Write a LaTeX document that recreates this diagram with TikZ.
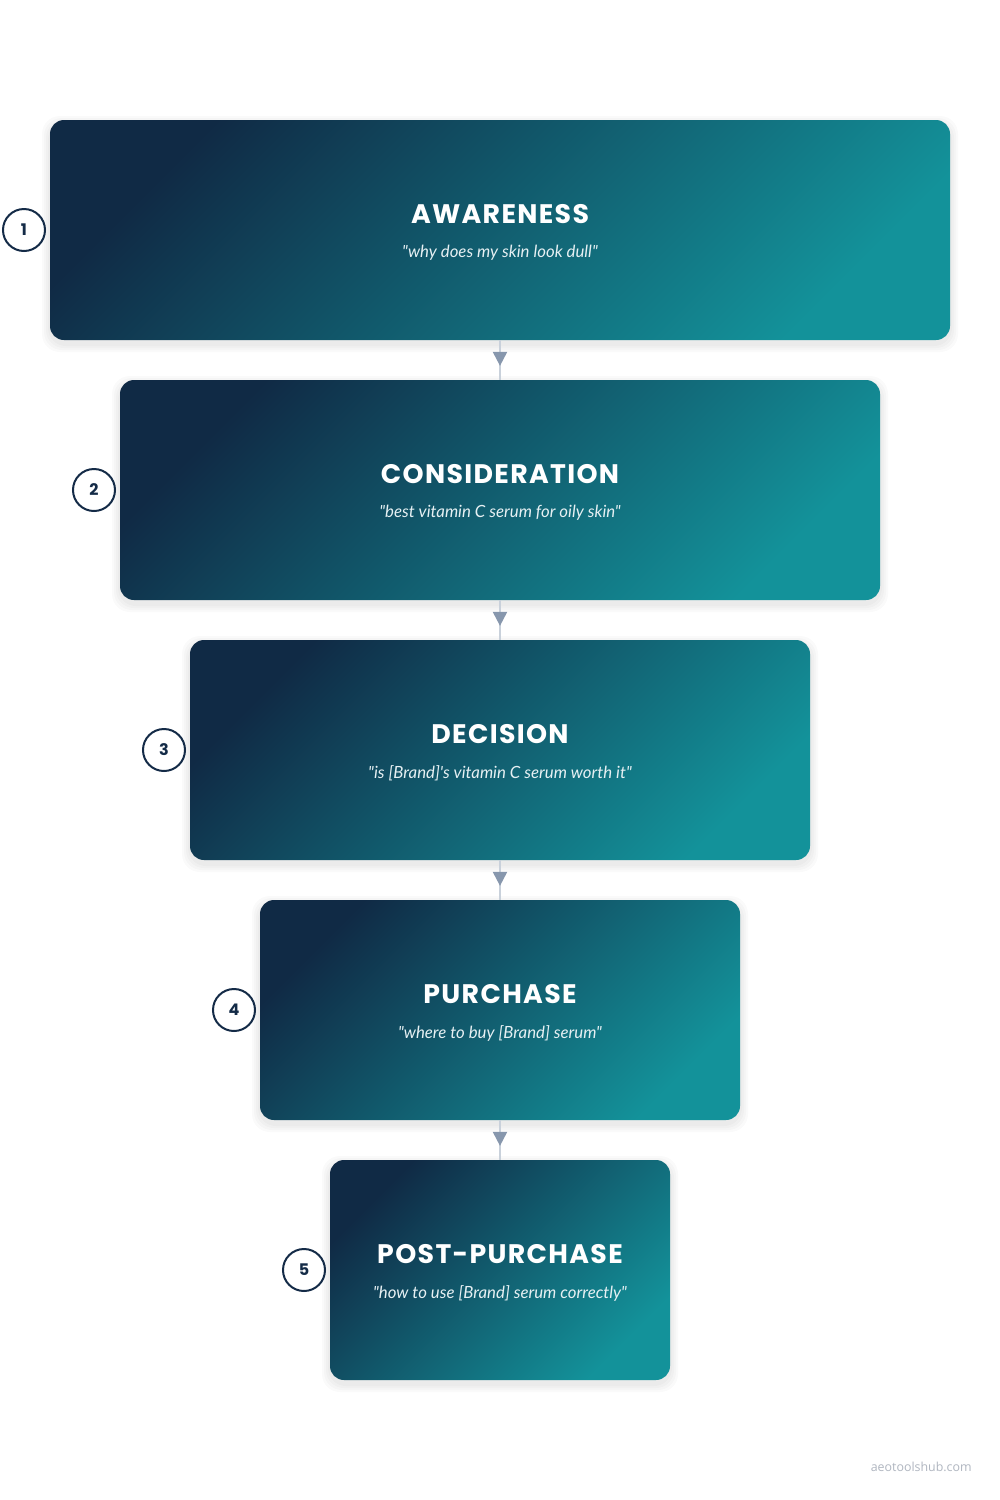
\documentclass[tikz,border=0pt]{standalone}
\usepackage{fontspec}
\usetikzlibrary{arrows.meta,decorations.markings}
\newfontfamily\headfont{Poppins}[LetterSpace=5]
\newfontfamily\subfont{Lato}
\newfontfamily\markfont{Open Sans}
\definecolor{gdark}{HTML}{102A45}
\definecolor{gteal}{HTML}{13929A}
\definecolor{navy}{HTML}{142B47}
\definecolor{connline}{HTML}{C9D1DB}
\definecolor{conntip}{HTML}{8797AD}
\definecolor{subtxt}{HTML}{E6F0F3}
\definecolor{wmark}{HTML}{B0B6C0}
\tikzset{
  stagebox/.style={draw=none, rounded corners=7pt, minimum height=110pt,
    top color=gdark, bottom color=gteal, shading angle=45},
  shadowbox/.style={draw=none, fill=black, fill opacity=0.02, rounded corners=9pt, minimum height=110pt},
  stagetitle/.style={text=white, font=\headfont\bfseries\fontsize{13.4pt}{15pt}\selectfont, inner sep=0pt},
  stagesub/.style={text=subtxt, font=\subfont\itshape\fontsize{8.4pt}{10pt}\selectfont, inner sep=0pt},
  numcircle/.style={circle, draw=navy, line width=1pt, fill=white, minimum size=21pt, inner sep=0pt,
    text=navy, font=\headfont\bfseries\fontsize{8pt}{10pt}\selectfont},
  conn/.style={draw=connline, line width=1pt, postaction={decorate},
    decoration={markings, mark=at position 0.65 with {\arrow[conntip]{Triangle[length=7pt,width=7pt]}}}}
}
\begin{document}
\begin{tikzpicture}[x=0.5pt,y=-0.5pt]
\useasboundingbox[fill=white] (0,0) rectangle (1000,1500);
% soft shadows
\foreach \w/\y in {450/230,380/490,310/750,240/1010,170/1270}{
  \foreach \s in {2,4,6,8}{
    \node[shadowbox, minimum width=\w pt+\s pt, minimum height=110pt+\s pt] at (500,\y+4) {};
  }
}
% boxes
\node[stagebox, minimum width=450pt] (b1) at (500,230) {};
\node[stagebox, minimum width=380pt] (b2) at (500,490) {};
\node[stagebox, minimum width=310pt] (b3) at (500,750) {};
\node[stagebox, minimum width=240pt] (b4) at (500,1010) {};
\node[stagebox, minimum width=170pt] (b5) at (500,1270) {};
% titles
\node[stagetitle] (t1) at (500,214) {AWARENESS};
\node[stagesub] (s1) at (500,253) {"why does my skin look dull"};
\node[stagetitle] (t2) at (500,474) {CONSIDERATION};
\node[stagesub] (s2) at (500,513) {"best vitamin C serum for oily skin"};
\node[stagetitle] (t3) at (500,734) {DECISION};
\node[stagesub] (s3) at (500,773) {"is [Brand]'s vitamin C serum worth it"};
\node[stagetitle] (t4) at (500,994) {PURCHASE};
\node[stagesub] (s4) at (500,1033) {"where to buy [Brand] serum"};
\node[stagetitle] (t5) at (500,1254) {POST-PURCHASE};
\node[stagesub] (s5) at (500,1293) {"how to use [Brand] serum correctly"};
% number circles
\node[numcircle] (n1) at (24,230) {1};
\node[numcircle] (n2) at (94,490) {2};
\node[numcircle] (n3) at (164,750) {3};
\node[numcircle] (n4) at (234,1010) {4};
\node[numcircle] (n5) at (304,1270) {5};
% connectors
\path[conn] (b1.south) -- (b2.north);
\path[conn] (b2.south) -- (b3.north);
\path[conn] (b3.south) -- (b4.north);
\path[conn] (b4.south) -- (b5.north);
% watermark
\node[anchor=east, text=wmark, font=\markfont\fontsize{6.2pt}{8pt}\selectfont, inner sep=0pt] (wm) at (972,1467) {aeotoolshub.com};
\end{tikzpicture}
\end{document}
